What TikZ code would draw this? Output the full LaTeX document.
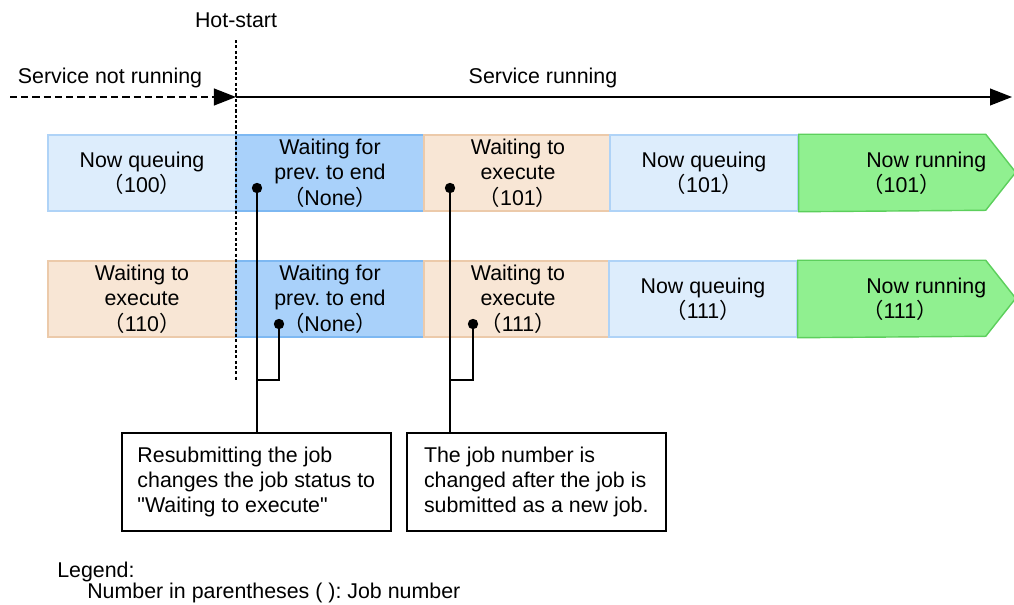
\documentclass[tikz,border=0pt]{standalone}
\usepackage{fontspec}
\setmainfont{Liberation Sans}[Ligatures=TeXOff]
\newfontfamily\cjk{Noto Sans CJK JP}
\usetikzlibrary{arrows.meta, positioning}
\frenchspacing

\definecolor{queuefill}{HTML}{DDEDFC}
\definecolor{queueline}{HTML}{AFD3F7}
\definecolor{prevfill}{HTML}{A9D1FA}
\definecolor{prevline}{HTML}{7DB8F2}
\definecolor{execfill}{HTML}{F8E6D5}
\definecolor{execline}{HTML}{ECCAAA}
\definecolor{runfill}{HTML}{90F090}
\definecolor{runline}{HTML}{5CCF5C}

\newcommand{\jobno}[1]{{\cjk （}#1{\cjk ）}}

\begin{document}
\begin{tikzpicture}[
  x=0.025cm, y=-0.025cm,
  font=\fontsize{15.2}{18}\selectfont,
  stage/.style={rectangle, minimum width=4.7cm, minimum height=1.9cm,
    inner sep=0pt, align=center, line width=1pt},
  queuing/.style={stage, fill=queuefill, draw=queueline},
  waitprev/.style={stage, fill=prevfill, draw=prevline},
  waitexec/.style={stage, fill=execfill, draw=execline},
  running/.style={fill=runfill, draw=runline, line width=1pt},
  runtext/.style={anchor=west, align=left, inner sep=0pt},
  note/.style={draw, line width=1.1pt, anchor=north west, align=left,
    minimum height=2.45cm},
  dot/.style={circle, fill, inner sep=0pt, minimum size=0.26cm},
  link/.style={line width=1.3pt},
  tip/.style={-{Triangle[length=0.55cm, width=0.42cm]}, line width=1.1pt}]

  \useasboundingbox (0,0) rectangle (1014,605);

  % first job
  \node[queuing] (q100) at (142,173) {Now queuing\\\jobno{100}};
  \node[waitprev] (p1) at (330,173) {Waiting for\\prev. to end\\\jobno{None}};
  \node[waitexec] (e101) at (518,173) {Waiting to\\execute\\\jobno{101}};
  \node[queuing] (q101) at (704,173) {Now queuing\\\jobno{101}};
  \draw[running] (q101.north east) -- ++(187,0) -- ++(30,38) -- ++(-30,38)
    -- (q101.south east) -- cycle;
  \node[runtext] (r101) at (862,173) {\hspace{0.1cm}Now running\\\jobno{101}};

  % second job
  \node[waitexec] (e110) at (142,299) {Waiting to\\execute\\\jobno{110}};
  \node[waitprev] (p2) at (330,299) {Waiting for\\prev. to end\\\jobno{None}};
  \node[waitexec] (e111) at (518,299) {Waiting to\\execute\\\jobno{111}};
  \node[queuing] (q111) at (703,299) {Now queuing\\\jobno{111}};
  \draw[running] (q111.north east) -- ++(188,0) -- ++(30,38) -- ++(-30,38)
    -- (q111.south east) -- cycle;
  \node[runtext] (r111) at (862,299) {\hspace{0.1cm}Now running\\\jobno{111}};

  % time line
  \node (hotlbl) at (236,20) {Hot-start};
  \coordinate (hottop) at (236,40);
  \coordinate (hotbot) at (236,380);
  \draw[line width=1.1pt, dash pattern=on 2.2pt off 1.6pt] (hottop) -- (hotbot);

  \coordinate (start) at (10,97);
  \coordinate (hot) at (236,97);
  \coordinate (finish) at (1012,97);
  \draw[tip, dash pattern=on 5pt off 3pt] (start) -- (hot);
  \draw[tip] (hot) -- (finish);
  \node at (110,78) {Service not running};
  \node at (543,78) {Service running};

  % notes
  \node[note, minimum width=6.725cm] (note1) at (121,432)
    {Resubmitting the job\\changes the job status to\\"Waiting to execute"};
  \node[note, minimum width=6.475cm] (note2) at (406,432)
    {The job number is\\changed after the job is\\submitted as a new job.};

  \node[dot] (d1) at (257,188) {};
  \node[dot] (d2) at (279,324) {};
  \node[dot] (d3) at (450,188) {};
  \node[dot] (d4) at (473,324) {};
  \coordinate (j1) at (257,380);
  \coordinate (j2) at (450,380);

  \draw[link] (d1.center) -- (d1 |- note1.north);
  \draw[link] (d2.center) -- (d2 |- j1) -- (j1);
  \draw[link] (d3.center) -- (d3 |- note2.north);
  \draw[link] (d4.center) -- (d4 |- j2) -- (j2);

  % legend
  \node[anchor=west, inner sep=0pt] (legend) at (57,572) {Legend:};
  \node[anchor=west, inner sep=0pt] at (87,593) {Number in parentheses ( ): Job number};
\end{tikzpicture}
\end{document}
